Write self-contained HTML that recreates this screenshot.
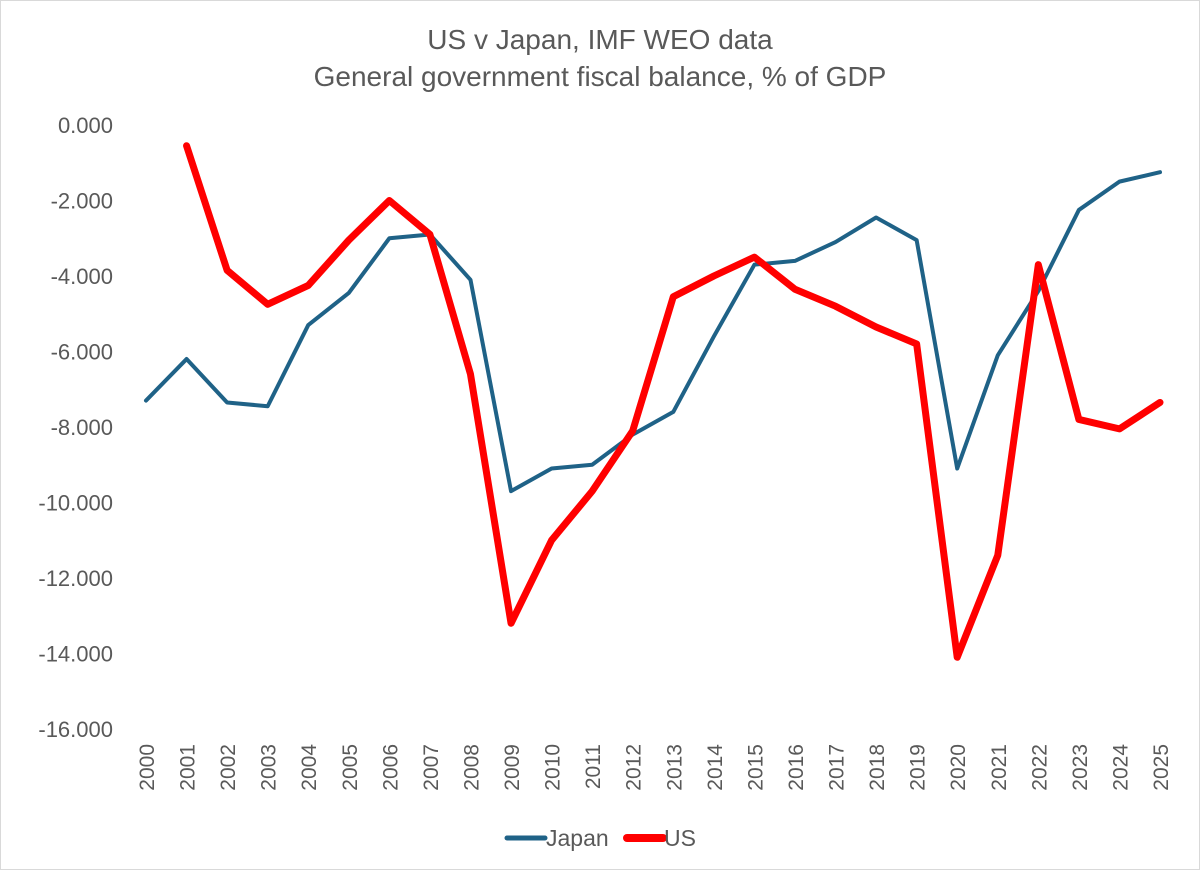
<!DOCTYPE html>
<html><head><meta charset="utf-8"><style>
body{margin:0;background:#fff;}
svg{display:block;font-family:"Liberation Sans",sans-serif;}
</style></head><body>
<svg id="chart" width="1200" height="872">
<rect x="0.5" y="0.5" width="1199" height="869" fill="#fff" stroke="#d9d9d9"/>
<text x="600" y="49" text-anchor="middle" font-size="28" fill="#595959">US v Japan, IMF WEO data</text>
<text x="600" y="86" text-anchor="middle" font-size="28" fill="#595959">General government fiscal balance, % of GDP</text>
<g id="yaxis"></g>
<g id="xaxis"></g>
<g id="series"></g>
<g>
<line x1="507" y1="838" x2="545" y2="838" stroke="#1f6287" stroke-width="5" stroke-linecap="round"/>
<text x="546" y="846" font-size="23" fill="#595959">Japan</text>
<line x1="627" y1="838" x2="663" y2="838" stroke="#ff0000" stroke-width="8" stroke-linecap="round"/>
<text x="664" y="846" font-size="23" fill="#595959">US</text>
</g>
</svg>
<script>
const years = [2000,2001,2002,2003,2004,2005,2006,2007,2008,2009,2010,2011,2012,2013,2014,2015,2016,2017,2018,2019,2020,2021,2022,2023,2024,2025];
const japan = [-7.3,-6.2,-7.35,-7.45,-5.3,-4.45,-3.0,-2.9,-4.1,-9.7,-9.1,-9.0,-8.2,-7.6,-5.6,-3.7,-3.6,-3.1,-2.45,-3.05,-9.1,-6.1,-4.4,-2.25,-1.5,-1.25];
const us = [null,-0.55,-3.85,-4.75,-4.25,-3.05,-2.0,-2.9,-6.6,-13.2,-11.0,-9.7,-8.1,-4.55,-4.0,-3.5,-4.35,-4.8,-5.35,-5.8,-14.1,-11.4,-3.7,-7.8,-8.05,-7.35];
const yTicks = [0,-2,-4,-6,-8,-10,-12,-14,-16];
const NS='http://www.w3.org/2000/svg';
function y(v){return 125 + (-v)*37.75;}
function x(i){return 146 + i*40.56;}
const ya=document.getElementById('yaxis');
yTicks.forEach(t=>{
  const e=document.createElementNS(NS,'text');
  
  
  e.setAttribute('x',113);e.setAttribute('y',y(t)+8);
  e.setAttribute('text-anchor','end');e.setAttribute('font-size','22');e.setAttribute('fill','#595959');
  e.textContent=t.toFixed(3);ya.appendChild(e);
});
const xa=document.getElementById('xaxis');
years.forEach((yr,i)=>{
  const e=document.createElementNS(NS,'text');
  
  
  const cx=x(i)+8, cy=744;
  e.setAttribute('x',cx);e.setAttribute('y',cy);
  e.setAttribute('transform','rotate(-90 '+cx+' '+cy+')');
  e.setAttribute('text-anchor','end');e.setAttribute('font-size','21');e.setAttribute('fill','#595959');
  e.textContent=yr;xa.appendChild(e);
});
const sg=document.getElementById('series');
function line(vals,color,w,name){
  let d='';
  vals.forEach((v,i)=>{if(v===null)return;d+=(d?'L':'M')+x(i)+','+y(v);});
  const p=document.createElementNS(NS,'path');
  
  
  p.setAttribute('d',d);p.setAttribute('fill','none');p.setAttribute('stroke',color);
  p.setAttribute('stroke-width',w);p.setAttribute('stroke-linejoin','round');p.setAttribute('stroke-linecap','round');
  sg.appendChild(p);
}
line(japan,'#1f6287',4,'japan-line');
line(us,'#ff0000',7,'us-line');
</script>
</body></html>
